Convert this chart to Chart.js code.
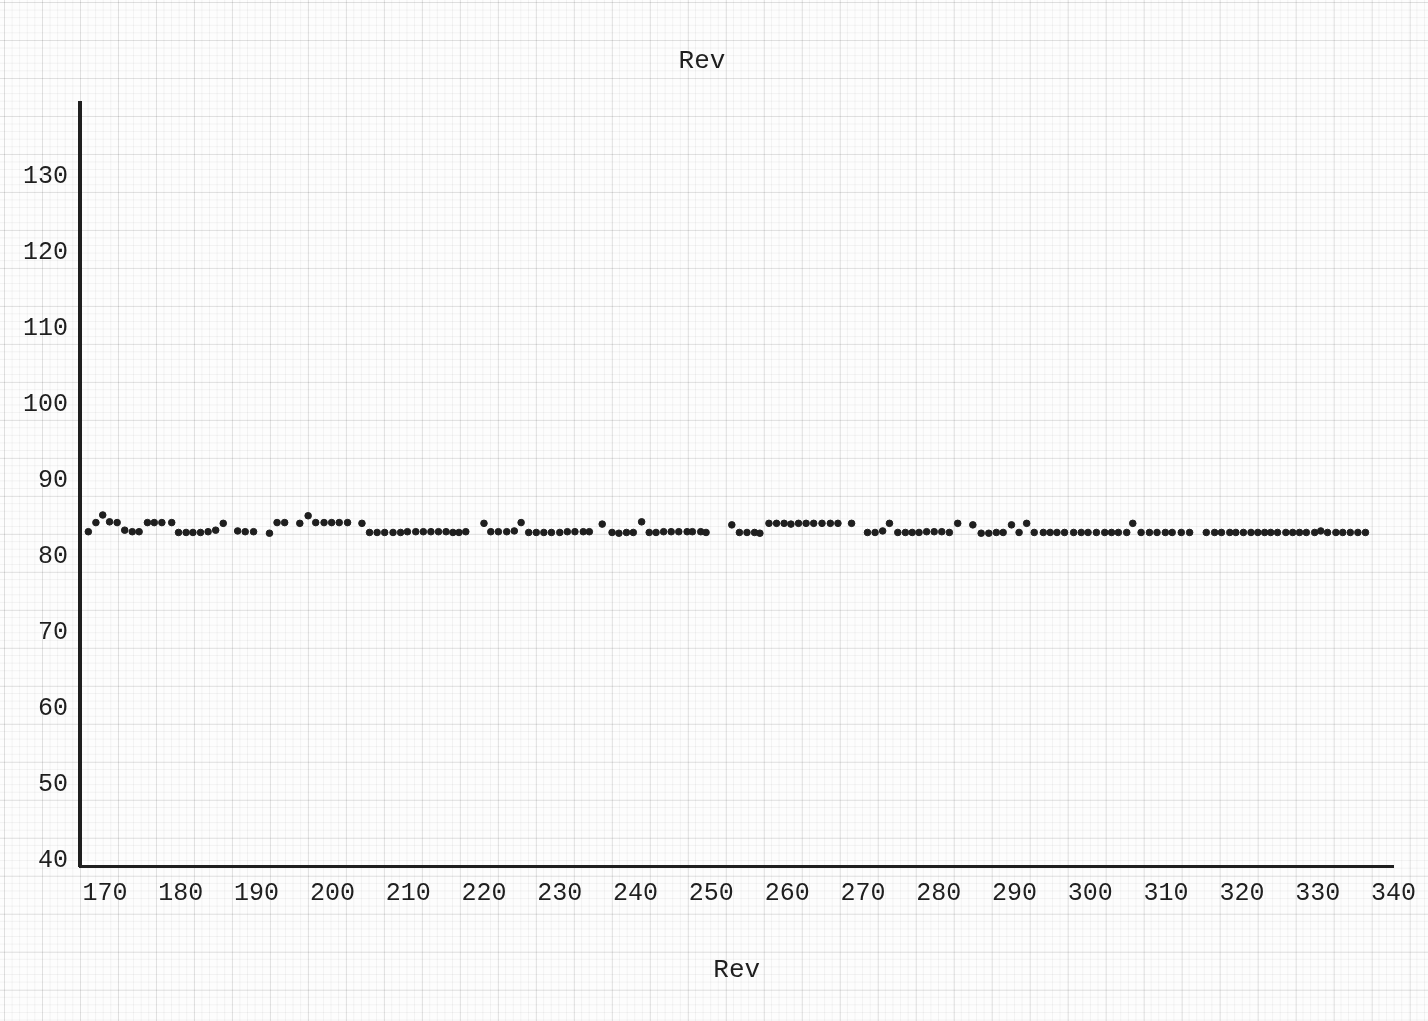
<!DOCTYPE html>
<html>
<head>
<meta charset="utf-8">
<title>Rev</title>
<script src="https://cdn.jsdelivr.net/npm/chart.js@4.4.0/dist/chart.umd.min.js"></script>
<style>
    html, body {
        margin: 0;
        padding: 0;
        width: 1428px;
        height: 1021px;
        overflow: hidden;
        background-color: #fdfdfd;
        /* graph paper look */
        background-image:
            linear-gradient(rgba(0, 0, 0, 0.08) 1px, transparent 1px),
            linear-gradient(90deg, rgba(0, 0, 0, 0.08) 1px, transparent 1px),
            linear-gradient(rgba(0, 0, 0, 0.045) 1px, transparent 1px),
            linear-gradient(90deg, rgba(0, 0, 0, 0.045) 1px, transparent 1px);
        background-size: 38px 38px, 38px 38px, 7.6px 7.6px, 7.6px 7.6px;
        background-position: 4px 2px, 4px 2px, 4px 2px, 4px 2px;
    }
    canvas { display: block; }
</style>
</head>
<body>
<canvas id="revChart" width="1428" height="1021"></canvas>
<script>
const revs = [
    167.8, 168.8, 169.7, 170.6, 171.6, 172.6, 173.6, 174.5, 175.6, 176.5,
    177.5, 178.8, 179.7, 180.7, 181.6, 182.6, 183.6, 184.6, 185.6, 187.5,
    188.5, 189.6, 191.7, 192.7, 193.7, 195.7, 196.8, 197.8, 198.9, 199.9,
    200.9, 202.0, 203.9, 204.9, 205.9, 206.9, 208.0, 209.0,
    209.9, 211.0, 212.0, 213.0, 214.0, 215.0, 215.9, 216.7, 217.6, 220.0,
    220.9, 221.9, 223.0, 224.0, 224.9, 225.9, 226.9, 227.9, 228.9, 230.0,
    231.0, 232.0, 233.1, 233.9, 235.6, 236.9, 237.8, 238.8, 239.7, 240.8,
    241.8, 242.7, 243.7, 244.7, 245.7, 246.8, 247.5, 248.6, 249.3,
    252.7, 253.7, 254.7, 255.7, 256.4, 257.6, 258.6, 259.6, 260.5, 261.5,
    262.5, 263.5, 264.6, 265.7, 266.7, 268.5, 270.6, 271.6, 272.6, 273.5,
    274.6, 275.6, 276.5, 277.4, 278.4, 279.4, 280.4, 281.4, 282.5, 284.5,
    285.6, 286.6, 287.6, 288.5, 289.6, 290.6, 291.6, 292.6,
    293.8, 294.7, 295.6, 296.6, 297.8, 298.8, 299.7, 300.8, 301.9, 302.8,
    303.7, 304.8, 305.6, 306.7, 307.8, 308.8, 309.9, 310.8, 312.0, 313.1,
    315.3, 316.4, 317.3, 318.4, 319.2, 320.2, 321.2, 322.1, 323.0, 323.8,
    324.7, 325.8, 326.7, 327.6, 328.5, 329.6, 330.4, 331.3, 332.4, 333.3,
    334.3, 335.3, 336.3
];
const values = [
    83.2, 84.4, 85.4, 84.5, 84.4, 83.4, 83.2, 83.2, 84.4, 84.4,
    84.4, 84.4, 83.1, 83.1, 83.1, 83.1, 83.2, 83.4, 84.3, 83.3,
    83.2, 83.2, 83.0, 84.4, 84.4, 84.3, 85.3, 84.4, 84.4, 84.4,
    84.4, 84.4, 84.3, 83.1, 83.1, 83.1, 83.1, 83.1,
    83.2, 83.2, 83.2, 83.2, 83.2, 83.2, 83.1, 83.1, 83.2, 84.3,
    83.2, 83.2, 83.2, 83.3, 84.4, 83.1, 83.1, 83.1, 83.1, 83.1,
    83.2, 83.2, 83.2, 83.2, 84.2, 83.1, 83.0, 83.1, 83.1, 84.5,
    83.1, 83.1, 83.2, 83.2, 83.2, 83.2, 83.2, 83.2, 83.1,
    84.1, 83.1, 83.1, 83.1, 83.0, 84.3, 84.3, 84.3, 84.2, 84.3,
    84.3, 84.3, 84.3, 84.3, 84.3, 84.3, 83.1, 83.1, 83.3, 84.3,
    83.1, 83.1, 83.1, 83.1, 83.2, 83.2, 83.2, 83.1, 84.3, 84.1,
    83.0, 83.0, 83.1, 83.1, 84.1, 83.1, 84.3, 83.1,
    83.1, 83.1, 83.1, 83.1, 83.1, 83.1, 83.1, 83.1, 83.1, 83.1,
    83.1, 83.1, 84.3, 83.1, 83.1, 83.1, 83.1, 83.1, 83.1, 83.1,
    83.1, 83.1, 83.1, 83.1, 83.1, 83.1, 83.1, 83.1, 83.1, 83.1,
    83.1, 83.1, 83.1, 83.1, 83.1, 83.1, 83.3, 83.1, 83.1, 83.1,
    83.1, 83.1, 83.1
];

// Tick labels as typed on the sheet
const xTicks = [170, 180, 190, 200, 210, 220, 230, 240, 250, 260, 270, 280, 290, 300, 310, 320, 330, 340];
const yTicks = [40, 50, 60, 70, 80, 90, 100, 110, 120, 130];

const ink = '#1f1f1f';
const typeFont = 'Liberation Mono, Courier New, DejaVu Sans Mono, monospace';

const points = revs.map((r, i) => ({ x: r, y: values[i] }));

new Chart(document.getElementById('revChart'), {
    type: 'scatter',
    data: {
        datasets: [{
            label: 'Rev',
            data: points,
            backgroundColor: ink,
            borderColor: ink,
            pointRadius: 3.3,
            pointHoverRadius: 4,
            showLine: false
        }]
    },
    options: {
        responsive: false,
        animation: false,
        layout: {
            padding: { left: 0, right: 24, top: 0, bottom: 0 }
        },
        plugins: {
            legend: { display: false },
            tooltip: { enabled: false },
            title: {
                display: true,
                text: 'Rev',
                color: ink,
                font: { family: typeFont, size: 26, weight: 'normal' },
                padding: { top: 46, bottom: 26 }
            }
        },
        scales: {
            x: {
                type: 'linear',
                min: 166.7,
                max: 340,
                afterBuildTicks: function(axis) {
                    axis.ticks = xTicks.map(v => ({ value: v }));
                },
                afterFit: function(axis) {
                    axis.height = 155;
                },
                grid: { display: false, drawTicks: false },
                border: { display: true, color: ink, width: 3 },
                ticks: {
                    color: ink,
                    font: { family: typeFont, size: 25 },
                    padding: 12,
                    maxRotation: 0,
                    autoSkip: false
                },
                title: {
                    display: true,
                    text: 'Rev',
                    color: ink,
                    font: { family: typeFont, size: 26 },
                    padding: { top: 0, bottom: 35 }
                }
            },
            y: {
                type: 'linear',
                min: 39.2,
                max: 139.6,
                afterBuildTicks: function(axis) {
                    axis.ticks = yTicks.map(v => ({ value: v }));
                },
                afterFit: function(axis) {
                    axis.width = 80;
                },
                grid: { display: false, drawTicks: false },
                border: { display: true, color: ink, width: 4 },
                ticks: {
                    color: ink,
                    font: { family: typeFont, size: 25 },
                    padding: 12
                }
            }
        }
    }
});
</script>
</body>
</html>
